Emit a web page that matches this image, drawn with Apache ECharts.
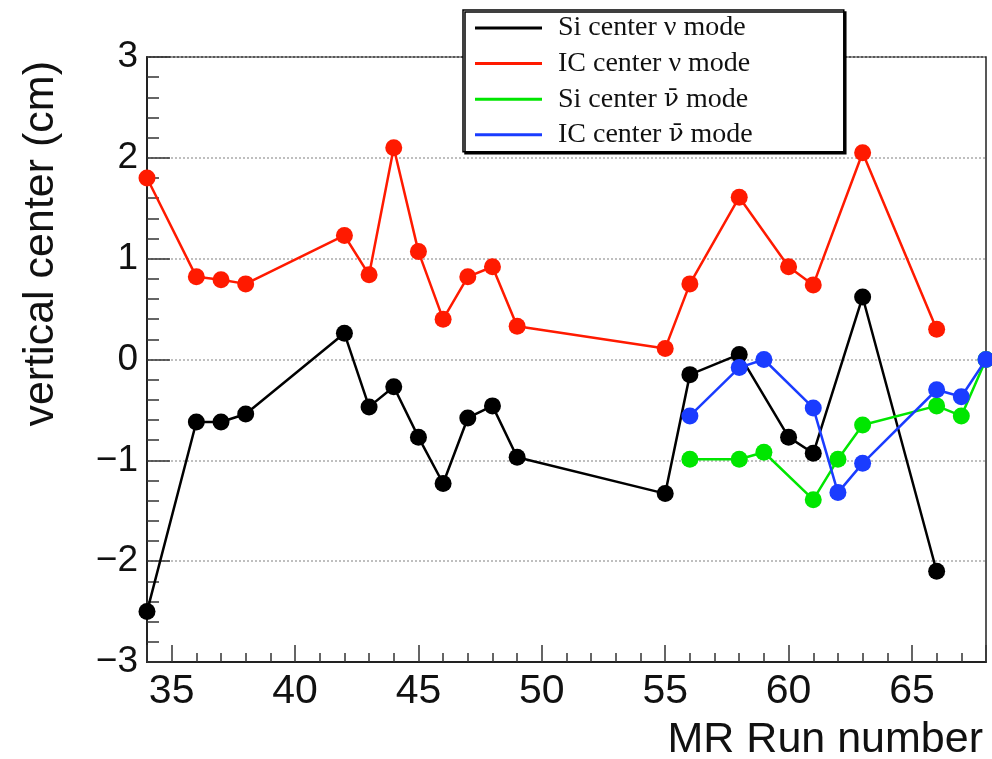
<!DOCTYPE html>
<html>
<head>
<meta charset="utf-8">
<script src="https://cdn.jsdelivr.net/npm/echarts@6/dist/echarts.min.js"></script>
<style>
html,body{margin:0;padding:0;background:#fff;}
#chart{width:992px;height:759px;}
</style>
</head>
<body>
<div id="chart"></div>
<script>
// ---- data ----
const seriesNames = ['Si center \u03bd mode', 'IC center \u03bd mode', 'Si center \u03bd\u0304 mode', 'IC center \u03bd\u0304 mode'];
const seriesColors = ['#000000', '#ff1a00', '#00e600', '#1a3cff'];

const siNuRuns = [34, 36, 37, 38, 42, 43, 44, 45, 46, 47, 48, 49, 55, 56, 58, 60, 61, 63, 66];
const siNuVals = [-2.50, -0.62, -0.62, -0.54, 0.26, -0.47, -0.27, -0.77, -1.23, -0.58, -0.46, -0.97, -1.33, -0.15, 0.05, -0.77, -0.93, 0.62, -2.10];

const icNuRuns = [34, 36, 37, 38, 42, 43, 44, 45, 46, 47, 48, 49, 55, 56, 58, 60, 61, 63, 66];
const icNuVals = [1.80, 0.82, 0.79, 0.75, 1.23, 0.84, 2.10, 1.07, 0.40, 0.82, 0.92, 0.33, 0.11, 0.75, 1.61, 0.92, 0.74, 2.05, 0.30];

const siNubarRuns = [56, 58, 59, 61, 62, 63, 66, 67, 68];
const siNubarVals = [-0.99, -0.99, -0.92, -1.39, -0.99, -0.65, -0.46, -0.56, 0.00];

const icNubarRuns = [56, 58, 59, 61, 62, 63, 66, 67, 68];
const icNubarVals = [-0.56, -0.08, 0.00, -0.48, -1.32, -1.03, -0.30, -0.37, 0.00];

const xAxisTitle = 'MR Run number';
const yAxisTitle = 'vertical center (cm)';

// ---- build ----
function pairs(xs, ys) { return xs.map((x, i) => [x, ys[i]]); }
const allData = [
  pairs(siNuRuns, siNuVals),
  pairs(icNuRuns, icNuVals),
  pairs(siNubarRuns, siNubarVals),
  pairs(icNubarRuns, icNubarVals)
];

function legendFormatter(name) {
  const idx = name.indexOf('\u03bd\u0304');
  if (idx < 0) return '{a|' + name + '}';
  return '{a|' + name.slice(0, idx) + '}{b|\u03bd\u0304}{a|' + name.slice(idx + 2) + '}';
}

const chart = echarts.init(document.getElementById('chart'), null, {renderer: 'canvas'});
const option = {
  animation: false,
  backgroundColor: '#ffffff',
  grid: {
    left: 147, right: 6, top: 57, bottom: 97,
    outerBoundsMode: 'none',
    containLabel: false,
    show: true, borderColor: '#222', borderWidth: 1.5, backgroundColor: 'transparent'
  },
  legend: {
    show: true,
    orient: 'vertical',
    left: 463, top: 10,
    padding: [3, 91, 2, 12],
    itemWidth: 67, itemHeight: 3,
    itemGap: 5.6,
    icon: 'rect',
    selectedMode: false,
    backgroundColor: '#ffffff',
    borderColor: '#000',
    borderWidth: 1.5,
    borderRadius: 0,
    shadowColor: '#000',
    shadowBlur: 0,
    shadowOffsetX: 2,
    shadowOffsetY: 2,
    formatter: legendFormatter,
    textStyle: {
      fontFamily: 'Liberation Serif', fontSize: 28, color: '#111',
      lineHeight: 30, padding: [0, 0, 0, 11],
      rich: {
        a: {fontFamily: 'Liberation Serif', fontSize: 28, color: '#111', lineHeight: 30},
        b: {fontFamily: 'DejaVu Serif', fontSize: 25, color: '#111', lineHeight: 30}
      }
    },
    data: seriesNames
  },
  xAxis: {
    type: 'value',
    min: 34, max: 68,
    name: xAxisTitle,
    nameLocation: 'end',
    nameGap: -3,
    nameTextStyle: {
      fontFamily: 'Liberation Sans', fontSize: 43, color: '#111',
      align: 'right', verticalAlign: 'top', padding: [57, 0, 0, 0]
    },
    axisLine: {show: true, onZero: false, lineStyle: {color: '#222', width: 2}},
    axisTick: {show: true, inside: true, length: 17, lineStyle: {color: '#333', width: 1.5}},
    minorTick: {show: true, splitNumber: 5, length: 9, lineStyle: {color: '#333', width: 1.5}},
    axisLabel: {
      fontFamily: 'Liberation Sans', fontSize: 41, color: '#111', margin: 9,
      showMinLabel: true, showMaxLabel: true,
      formatter: v => (Math.abs(v % 5) < 1e-9 ? String(v) : '')
    },
    splitLine: {show: false}
  },
  yAxis: {
    type: 'value',
    min: -3, max: 3, interval: 1,
    name: yAxisTitle,
    nameLocation: 'end',
    nameRotate: 90,
    nameGap: -4,
    nameTextStyle: {
      fontFamily: 'Liberation Sans', fontSize: 43, color: '#111',
      align: 'right', verticalAlign: 'bottom', padding: [0, 0, 84, 0]
    },
    axisLine: {show: true, onZero: false, lineStyle: {color: '#222', width: 2}},
    axisTick: {show: true, inside: true, length: 23, lineStyle: {color: '#333', width: 1.5}},
    minorTick: {show: true, splitNumber: 5, length: 12, lineStyle: {color: '#333', width: 1.5}},
    axisLabel: {
      fontFamily: 'Liberation Sans', fontSize: 37, color: '#111', margin: 9,
      formatter: v => (v < 0 ? '\u2212' + Math.abs(v) : String(v))
    },
    splitLine: {show: true, lineStyle: {color: '#aaa', width: 1.5, type: [2, 2]}}
  },
  series: allData.map((d, i) => ({
    name: seriesNames[i],
    type: 'line',
    data: d,
    clip: false,
    symbol: 'circle',
    symbolSize: 17,
    showSymbol: true,
    lineStyle: {color: seriesColors[i], width: 2.5},
    itemStyle: {color: seriesColors[i], borderWidth: 0},
    emphasis: {disabled: true},
    z: 2 + i
  }))
};
chart.setOption(option);
</script>
</body>
</html>
